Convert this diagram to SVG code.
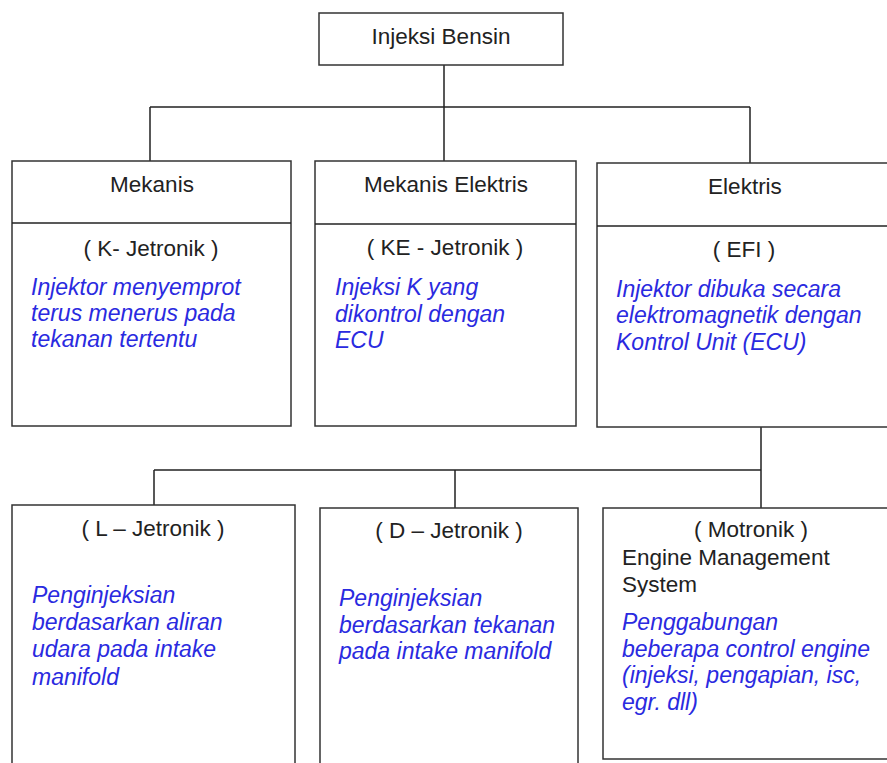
<svg xmlns="http://www.w3.org/2000/svg" width="887" height="763" viewBox="0 0 887 763">
<style>
.box{fill:#fff;stroke:#333;stroke-width:1.5}
.ln{stroke:#222;stroke-width:1.5;fill:none}
.t{font-family:"Liberation Sans",Arial,sans-serif;font-size:22.5px;fill:#222}
.c{text-anchor:middle}
.b{font-family:"Liberation Sans",Arial,sans-serif;font-size:23px;font-style:italic;fill:#2a2ae0}
</style>
<rect width="887" height="763" fill="#fff"/>
<g id="connectors">
<path class="ln" d="M444,65V161M150,107H750M150,107V161M750,107V163"/>
<path class="ln" d="M761,427V508M154,470H761M154,470V505M455,470V508"/>
</g>
<g id="injeksi-bensin">
<rect class="box" x="319" y="13" width="244" height="52"/>
<text class="t c" x="441" y="44">Injeksi Bensin</text>
</g>
<g id="mekanis">
<rect class="box" x="12" y="161" width="279" height="265"/>
<line class="ln" x1="12" y1="223" x2="291" y2="223"/>
<text class="t c" x="152" y="192">Mekanis</text>
<text class="t c" x="151" y="256">( K- Jetronik )</text>
<text class="b" x="31" y="295">Injektor menyemprot</text>
<text class="b" x="31" y="321">terus menerus pada</text>
<text class="b" x="31" y="347">tekanan tertentu</text>
</g>
<g id="mekanis-elektris">
<rect class="box" x="315" y="161" width="261" height="265"/>
<line class="ln" x1="315" y1="224" x2="576" y2="224"/>
<text class="t c" x="446" y="192">Mekanis Elektris</text>
<text class="t c" x="445" y="255">( KE - Jetronik )</text>
<text class="b" x="335" y="295">Injeksi K yang</text>
<text class="b" x="335" y="322">dikontrol dengan</text>
<text class="b" x="335" y="348">ECU</text>
</g>
<g id="elektris">
<rect class="box" x="597" y="163" width="300" height="264"/>
<line class="ln" x1="597" y1="226" x2="897" y2="226"/>
<text class="t c" x="745" y="194">Elektris</text>
<text class="t c" x="744" y="257">( EFI )</text>
<text class="b" x="616" y="297">Injektor dibuka secara</text>
<text class="b" x="616" y="323">elektromagnetik dengan</text>
<text class="b" x="616" y="350">Kontrol Unit (ECU)</text>
</g>
<g id="l-jetronik">
<rect class="box" x="12" y="505" width="283" height="270"/>
<text class="t c" x="153" y="536">( L – Jetronik )</text>
<text class="b" x="32" y="603">Penginjeksian</text>
<text class="b" x="32" y="630">berdasarkan aliran</text>
<text class="b" x="32" y="657">udara pada intake</text>
<text class="b" x="32" y="685">manifold</text>
</g>
<g id="d-jetronik">
<rect class="box" x="320" y="508" width="258" height="270"/>
<text class="t c" x="449" y="538">( D – Jetronik )</text>
<text class="b" x="339" y="606">Penginjeksian</text>
<text class="b" x="339" y="633">berdasarkan tekanan</text>
<text class="b" x="339" y="659">pada intake manifold</text>
</g>
<g id="motronik">
<rect class="box" x="603" y="508" width="300" height="251"/>
<text class="t c" x="751" y="537">( Motronik )</text>
<text class="t" x="622" y="565">Engine Management</text>
<text class="t" x="622" y="592">System</text>
<text class="b" x="622" y="630">Penggabungan</text>
<text class="b" x="622" y="657">beberapa control engine</text>
<text class="b" x="622" y="683">(injeksi, pengapian, isc,</text>
<text class="b" x="622" y="710">egr. dll)</text>
</g>
</svg>
